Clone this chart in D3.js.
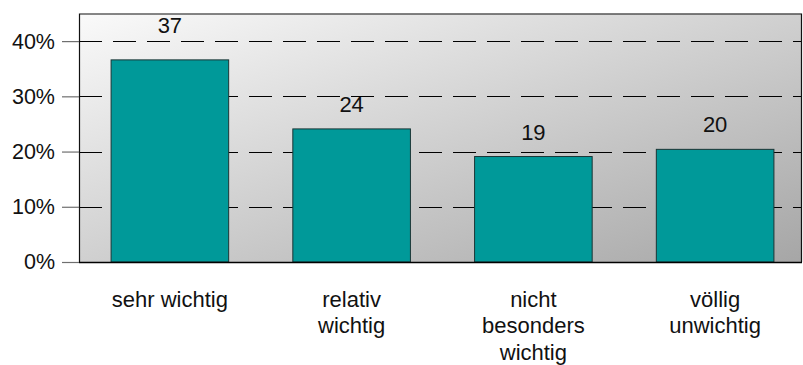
<!DOCTYPE html>
<html>
<head>
<meta charset="utf-8">
<script src="https://cdn.jsdelivr.net/npm/d3@7"></script>
<style>
  html, body { margin: 0; padding: 0; background: #ffffff; }
  svg { display: block; }
  text { font-family: "Liberation Sans", Arial, sans-serif; fill: #111; }
</style>
</head>
<body>
<svg id="chart" width="803" height="365"></svg>
<script>
const categories = ["sehr wichtig", "relativ wichtig", "nicht besonders wichtig", "völlig unwichtig"];
const categoryLines = [["sehr wichtig"], ["relativ", "wichtig"], ["nicht", "besonders", "wichtig"], ["völlig", "unwichtig"]];
const values = [36.6, 24.1, 19.1, 20.4];
const valueLabels = ["37", "24", "19", "20"];
const tickValues = [0, 10, 20, 30, 40];
const tickLabels = ["0%", "10%", "20%", "30%", "40%"];

(function () {
const svg = d3.select("#chart");
const pL = 79, pR = 802, pT = 13.5, pB = 262;

const x = d3.scaleBand().domain(categories).range([pL, 806]).paddingInner(0.353).paddingOuter(0.1765);
const y = d3.scaleLinear().domain([0, 45]).range([pB, pT]);

const defs = svg.append("defs");
const grad = defs.append("linearGradient").attr("id", "bg")
  .attr("x1", 0).attr("y1", 0).attr("x2", 1).attr("y2", 1);
grad.append("stop").attr("offset", "0%").attr("stop-color", "#fafafa");
grad.append("stop").attr("offset", "100%").attr("stop-color", "#a6a6a6");

// plot background
svg.append("rect")
  .attr("x", pL).attr("y", pT)
  .attr("width", pR - pL).attr("height", pB - pT)
  .attr("fill", "url(#bg)");

// dashed gridlines
svg.append("g").selectAll("line")
  .data(tickValues.filter(d => d > 0))
  .join("line")
  .attr("x1", pL).attr("x2", pR)
  .attr("y1", d => Math.round(y(d)) + 0.5).attr("y2", d => Math.round(y(d)) + 0.5)
  .attr("stroke", "#000").attr("stroke-width", 1)
  .attr("stroke-dasharray", "23,11");

// bars
svg.append("g").selectAll("rect")
  .data(values)
  .join("rect")
  .attr("x", (d, i) => x(categories[i]))
  .attr("y", d => y(d))
  .attr("width", x.bandwidth())
  .attr("height", d => pB - y(d))
  .attr("fill", "#009999")
  .attr("stroke", "#1a3535").attr("stroke-width", 1);

// plot border (top, left, right)
svg.append("path")
  .attr("d", `M${pL + 0.5},${pB} V${pT + 0.5} H${pR - 0.5} V${pB}`)
  .attr("fill", "none").attr("stroke", "#111").attr("stroke-width", 1.2);

// y axis
const yAxis = d3.axisLeft(y).tickValues(tickValues).tickSize(17).tickPadding(7)
  .tickFormat((d, i) => tickLabels[i]);
const gy = svg.append("g").attr("transform", `translate(${pL},0)`).call(yAxis);
gy.select(".domain").remove();
gy.selectAll(".tick line").attr("stroke", "#6f6f6f").attr("stroke-width", 1.2);
gy.selectAll(".tick text")
  .attr("font-size", "21.5px")
  .attr("font-family", "'Liberation Sans', Arial, sans-serif")
  .attr("fill", "#111");

// x axis line
svg.append("line")
  .attr("x1", pL).attr("x2", pR)
  .attr("y1", pB + 0.5).attr("y2", pB + 0.5)
  .attr("stroke", "#000").attr("stroke-width", 1.5);

// value labels (moved above a gridline if they would cross it)
function labelY(v) {
  let b = y(v) - 17;
  tickValues.filter(t => t > 0).forEach(t => {
    const gyv = y(t);
    if (gyv > b - 14 && gyv < b + 2) b = gyv - 8.3;
  });
  return b;
}
svg.append("g").selectAll("text")
  .data(values)
  .join("text")
  .attr("x", (d, i) => x(categories[i]) + x.bandwidth() / 2)
  .attr("y", d => labelY(d))
  .attr("text-anchor", "middle")
  .attr("font-size", "22px")
  .text((d, i) => valueLabels[i]);

// category labels
const catG = svg.append("g").selectAll("text")
  .data(categoryLines)
  .join("text")
  .attr("text-anchor", "middle")
  .attr("font-size", "22px");
catG.selectAll("tspan")
  .data((lines, i) => lines.map(l => ({ l, i })))
  .join("tspan")
  .attr("x", d => x(categories[d.i]) + x.bandwidth() / 2)
  .attr("y", (d, j) => 306.5 + j * 26.8)
  .text(d => d.l);
})();
</script>
</body>
</html>
